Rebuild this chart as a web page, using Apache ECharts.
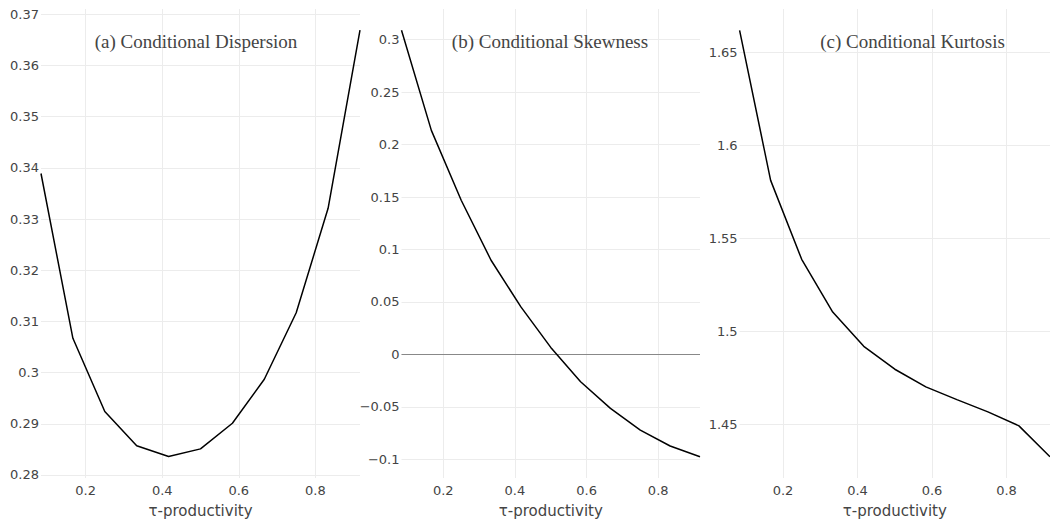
<!DOCTYPE html>
<html>
<head>
<meta charset="utf-8">
<script src="https://cdn.jsdelivr.net/npm/echarts@6/dist/echarts.min.js"></script>
<style>
html,body{margin:0;padding:0;background:#fff;}
#chart{width:1050px;height:527px;}
</style>
</head>
<body>
<div id="chart"></div>
<script>
// tau grid (k/12, k = 1..11)
const tau = [1/12, 2/12, 3/12, 4/12, 5/12, 6/12, 7/12, 8/12, 9/12, 10/12, 11/12];

// series values
const dispersion = [0.3389, 0.3067, 0.2924, 0.2857, 0.2836, 0.2851, 0.2901, 0.2987, 0.3117, 0.3321, 0.3669];
const skewness   = [0.309, 0.2136, 0.147, 0.0898, 0.0453, 0.0067, -0.0261, -0.0514, -0.0721, -0.0873, -0.0975];
const kurtosis   = [1.6616, 1.5811, 1.5387, 1.5104, 1.492, 1.4797, 1.4702, 1.4634, 1.4568, 1.4493, 1.4327];

// tick labels
const xTicks = [0.2, 0.4, 0.6, 0.8];
const yTicksA = [0.28, 0.29, 0.3, 0.31, 0.32, 0.33, 0.34, 0.35, 0.36, 0.37];
const yTicksB = [-0.1, -0.05, 0, 0.05, 0.1, 0.15, 0.2, 0.25, 0.3];
const yTicksC = [1.45, 1.5, 1.55, 1.6, 1.65];

// panel titles and axis title
const titles = ['(a) Conditional Dispersion', '(b) Conditional Skewness', '(c) Conditional Kurtosis'];
const xName = 'τ-productivity';

// axis ranges (data range padded as in the original)
const yRangeA = [0.27941, 0.37104];
const yRangeB = [-0.1178, 0.3293];
const yRangeC = [1.4213, 1.6731];

const TXT = '#444';
const GRID = '#ececec';
const tickFont = 'DejaVu Sans';

function pairs(ys){ return tau.map((t,i)=>[t, ys[i]]); }
function fmt(v){ return String(v).replace('-', '\u2212'); }

const grids = [
  {left: 41, width: 319, top: 9, height: 469},
  {left: 401.5, width: 298.5, top: 9, height: 469},
  {left: 739.6, width: 319.2, top: 9, height: 469}
];

function xAxis(i){
  return {
    type: 'value', gridIndex: i, min: tau[0], max: tau[tau.length-1],
    name: xName, nameLocation: 'middle', nameGap: 25,
    nameTextStyle: {color: TXT, fontFamily: tickFont, fontSize: 15},
    axisLine: {show: false},
    axisTick: {show: false, customValues: xTicks},
    axisLabel: {customValues: xTicks, color: TXT, fontFamily: tickFont, fontSize: 13, margin: 6, formatter: fmt},
    splitLine: {show: true, lineStyle: {color: GRID, width: 1}}
  };
}
function yAxis(i, range, ticks){
  return {
    type: 'value', gridIndex: i, min: range[0], max: range[1],
    axisLine: {show: false},
    axisTick: {show: false, customValues: ticks},
    axisLabel: {customValues: ticks, color: TXT, fontFamily: tickFont, fontSize: 13, margin: 2, formatter: fmt},
    splitLine: {show: true, lineStyle: {color: GRID, width: 1}}
  };
}
function lineSeries(i, ys, extra){
  return Object.assign({
    type: 'line', xAxisIndex: i, yAxisIndex: i, data: pairs(ys),
    showSymbol: false, symbol: 'none', smooth: false, silent: true,
    lineStyle: {color: '#000', width: 1.5}, z: 3
  }, extra || {});
}

const titleCenters = [196, 550, 912.5];

const option = {
  animation: false,
  backgroundColor: '#fff',
  title: titles.map((t,i)=>({
    text: t, left: titleCenters[i], top: 32, padding: 0, textAlign: 'center',
    textStyle: {fontFamily: 'Liberation Serif', fontWeight: 'normal', fontSize: 19, color: TXT}
  })),
  grid: grids,
  xAxis: [xAxis(0), xAxis(1), xAxis(2)],
  yAxis: [yAxis(0, yRangeA, yTicksA), yAxis(1, yRangeB, yTicksB), yAxis(2, yRangeC, yTicksC)],
  series: [
    lineSeries(0, dispersion),
    lineSeries(1, skewness, {
      markLine: {silent: true, symbol: 'none', label: {show: false}, z: 2,
        lineStyle: {color: '#888', width: 1.2, type: 'solid'}, data: [{yAxis: 0}]}
    }),
    lineSeries(2, kurtosis)
  ]
};

const chart = echarts.init(document.getElementById('chart'), null, {renderer: 'svg', width: 1050, height: 527});
chart.setOption(option);
</script>
</body>
</html>
